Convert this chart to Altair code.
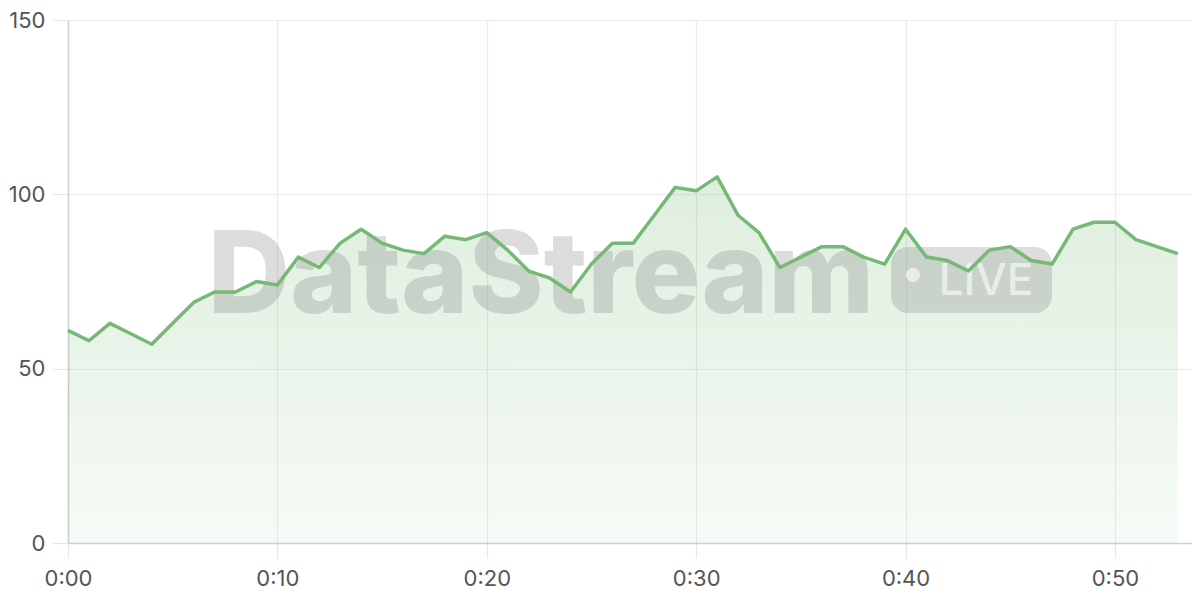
import altair as alt
import pandas as pd

minutes = list(range(54))
values = [61, 58, 63, 60, 57, 63, 69, 72, 72, 75,
          74, 82, 79, 86, 90, 86, 84, 83, 88, 87,
          89, 84, 78, 76, 72, 80, 86, 86, 94, 102,
          101, 105, 94, 89, 79, 82, 85, 85, 82, 80,
          90, 82, 81, 78, 84, 85, 81, 80, 90, 92,
          92, 87, 85, 83]
x_ticks = [0, 10, 20, 30, 40, 50]
y_ticks = [0, 50, 100, 150]

df = pd.DataFrame({"minute": minutes, "value": values})

LINE = "#76b976"
FONT = "Inter"

xenc = alt.X("minute:Q",
             scale=alt.Scale(domain=[0, 53.68], nice=False, zero=False),
             axis=alt.Axis(values=x_ticks, title=None, labelFlush=False,
                           labelExpr="'0:' + (datum.value < 10 ? '0' : '') + datum.value",
                           tickSize=15, labelPadding=10))
yenc = alt.Y("value:Q",
             scale=alt.Scale(domain=[0, 150], nice=False),
             axis=alt.Axis(values=y_ticks, title=None, labelFlush=False,
                           tickSize=15, labelPadding=8))

base = alt.Chart(df)

area = base.mark_area(
    color=alt.Gradient(
        gradient="linear",
        stops=[alt.GradientStop(color="rgba(116,184,116,0.24)", offset=0),
               alt.GradientStop(color="rgba(116,184,116,0.06)", offset=1)],
        x1=1, x2=1, y1=0, y2=1),
).encode(x=xenc, y=yenc)

line = base.mark_line(color=LINE, strokeWidth=3.5, strokeJoin="round").encode(x=xenc, y=yenc)

wm_text = alt.Chart(pd.DataFrame({"t": ["DataStream"]})).mark_text(
    font=FONT, fontSize=114, fontWeight=800, color="#7a7a7a", opacity=0.26,
    align="center", baseline="alphabetic",
).encode(text="t:N", x=alt.value(473), y=alt.value(293))

pill = alt.Chart(pd.DataFrame({"a": [1]})).mark_rect(
    color="#7a7a7a", opacity=0.26, cornerRadius=17,
).encode(x=alt.value(823), x2=alt.value(984), y=alt.value(227), y2=alt.value(293))

dot = alt.Chart(pd.DataFrame({"a": [1]})).mark_circle(
    color="#ffffff", opacity=0.6, size=200,
).encode(x=alt.value(845), y=alt.value(255))

live = alt.Chart(pd.DataFrame({"t": ["LIVE"]})).mark_text(
    font=FONT, fontSize=44, fontWeight=500, color="#ffffff", opacity=0.6,
    align="center", baseline="alphabetic",
).encode(text="t:N", x=alt.value(918), y=alt.value(275))

chart = alt.layer(area, wm_text, pill, dot, live, line).properties(
    width=1124, height=523,
    padding={"left": 60, "top": 12, "right": 0, "bottom": 56},
    autosize=alt.AutoSizeParams(type="none"),
).configure_view(stroke=None).configure_axis(
    gridColor="#ebebeb", gridWidth=1.2,
    tickColor="#e6e6e6", tickWidth=1.2,
    domainColor="#d0d0d0", domainWidth=1.5,
    labelFont=FONT, labelFontSize=22, labelColor="#555555",
)

chart.save("out.html", embed_options={"renderer": "svg", "actions": False})
